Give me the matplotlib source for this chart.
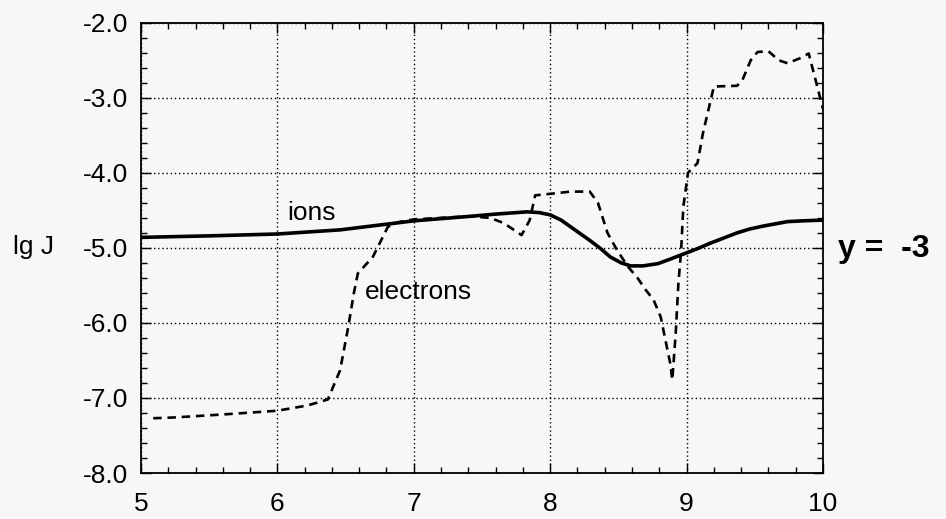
import matplotlib
matplotlib.use("Agg")
import matplotlib.pyplot as plt
from matplotlib.ticker import MultipleLocator, FormatStrFormatter

plt.rcParams["font.family"] = ["Liberation Sans", "DejaVu Sans"]

BG = "#f7f7f7"

# solid curve: ions
ion_x = [5.0, 5.5, 6.0, 6.46, 7.0, 7.41, 7.6, 7.83, 7.92, 8.0, 8.08, 8.15,
         8.22, 8.29, 8.37, 8.44, 8.52, 8.59, 8.68, 8.79, 8.88, 8.98, 9.08,
         9.17, 9.27, 9.37, 9.46, 9.56, 9.65, 9.74, 9.85, 10.0]
ion_y = [-4.86, -4.84, -4.815, -4.76, -4.64, -4.58, -4.55, -4.52, -4.53,
         -4.56, -4.63, -4.72, -4.81, -4.90, -5.01, -5.12, -5.20, -5.24,
         -5.24, -5.21, -5.15, -5.08, -5.01, -4.94, -4.87, -4.80, -4.75,
         -4.71, -4.68, -4.65, -4.64, -4.63]

# dashed curve: electrons
ele_x = [5.09, 5.24, 5.60, 6.00, 6.22, 6.37, 6.46, 6.52, 6.56, 6.59, 6.70,
         6.81, 6.88, 7.0, 7.2, 7.41, 7.56, 7.66, 7.79, 7.85, 7.89, 8.0, 8.15,
         8.29, 8.35, 8.42, 8.49, 8.57, 8.64, 8.70, 8.757, 8.81, 8.845, 8.88,
         8.895, 8.92, 8.94, 8.96, 8.976, 8.99, 9.01, 9.08, 9.12, 9.16, 9.20,
         9.37, 9.41, 9.47, 9.52, 9.60, 9.675, 9.74, 9.835, 9.895, 9.945,
         10.0]
ele_y = [-7.27, -7.26, -7.22, -7.17, -7.10, -7.02, -6.63, -6.05, -5.61,
         -5.34, -5.12, -4.72, -4.66, -4.62, -4.60, -4.58, -4.60, -4.67,
         -4.83, -4.63, -4.30, -4.28, -4.25, -4.25, -4.40, -4.80, -5.03,
         -5.25, -5.40, -5.56, -5.69, -5.92, -6.23, -6.54, -6.76, -6.14,
         -5.47, -5.03, -4.45, -4.27, -4.00, -3.87, -3.47, -3.16, -2.85,
         -2.84, -2.76, -2.50, -2.39, -2.38, -2.50, -2.54, -2.47, -2.41,
         -2.76, -3.15]

x_ticks = [5, 6, 7, 8, 9, 10]
y_ticks = [-8.0, -7.0, -6.0, -5.0, -4.0, -3.0, -2.0]

fig = plt.figure(figsize=(9.46, 5.19), dpi=100, facecolor=BG)
ax = fig.add_axes([0.149, 0.0886, 0.721, 0.8676], facecolor=BG)

ax.plot(ion_x, ion_y, "-", color="black", lw=2.6, zorder=3,
        solid_capstyle="round", solid_joinstyle="round")
ax.plot(ele_x, ele_y, color="black", lw=1.9, dashes=(3.2, 2.2), zorder=3)

ax.set_xlim(5, 10)
ax.set_ylim(-8, -2)
ax.set_xticks(x_ticks)
ax.set_yticks(y_ticks)
ax.xaxis.set_minor_locator(MultipleLocator(0.2))
ax.yaxis.set_minor_locator(MultipleLocator(0.2))
ax.yaxis.set_major_formatter(FormatStrFormatter("%.1f"))
ax.tick_params(which="both", direction="in", top=True, right=True,
               colors="black", width=1.0)
ax.tick_params(which="major", length=7, labelsize=19, pad=9)
ax.tick_params(which="minor", length=4.5)
ax.tick_params(axis="x", which="major", pad=14)
for s in ax.spines.values():
    s.set_linewidth(1.3)
ax.grid(True, which="major", ls=(0, (1, 2)), color="black", lw=1.0)

ax.text(6.25, -4.54, "ions", fontsize=19, ha="center", va="center")
ax.text(6.64, -5.59, "electrons", fontsize=19, ha="left", va="center")

fig.text(0.035, 1 - 247 / 519, "lg J", fontsize=19, ha="center",
         va="center")
fig.text(0.886, 1 - 249 / 519, "y =  -3", fontsize=23, fontweight="bold",
         ha="left", va="center")

fig.savefig("out.png", dpi=100, facecolor=BG)
